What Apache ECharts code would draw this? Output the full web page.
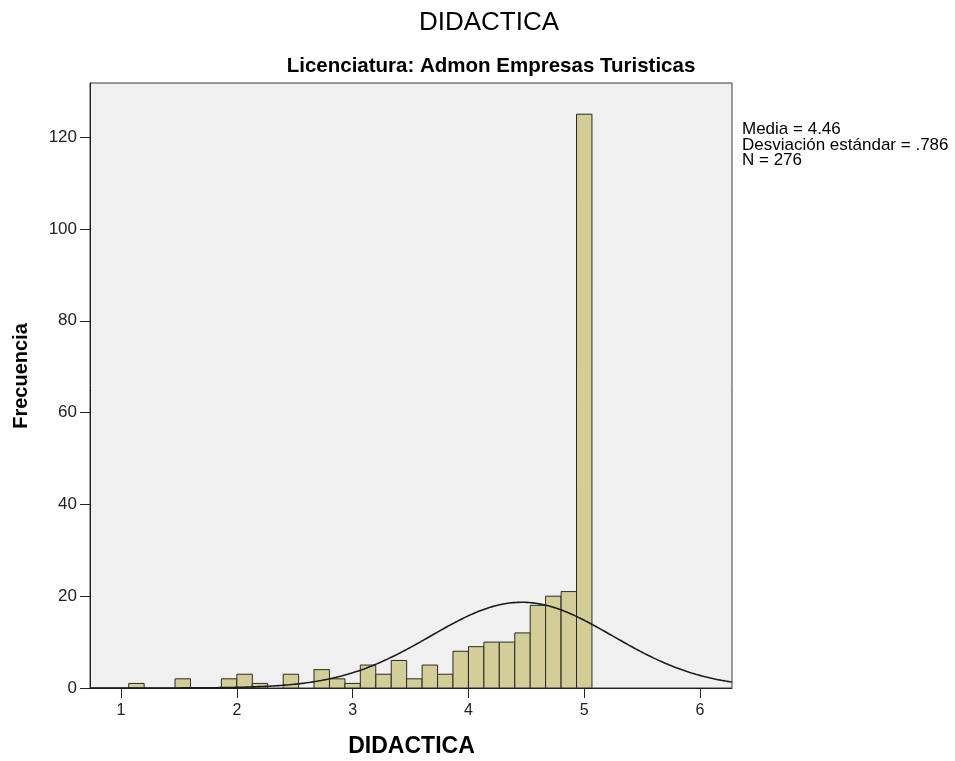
<!DOCTYPE html>
<html>
<head>
<meta charset="utf-8">
<script src="https://cdn.jsdelivr.net/npm/echarts@6/dist/echarts.min.js"></script>
<style>
html,body{margin:0;padding:0;background:#fff;}
#chart{width:955px;height:761px;}
</style>
</head>
<body>
<div id="chart"></div>
<script>
// Histogram bin centers (DIDACTICA) and frequencies
const binCenters = [1.133, 1.533, 1.933, 2.067, 2.2, 2.467, 2.733, 2.867, 3.0, 3.133, 3.267, 3.4, 3.533, 3.667, 3.8, 3.933, 4.067, 4.2, 4.333, 4.467, 4.6, 4.733, 4.867, 5.0];
const frequencies = [1, 2, 2, 3, 1, 3, 4, 2, 1, 5, 3, 6, 2, 5, 3, 8, 9, 10, 10, 12, 18, 20, 21, 125];
const binWidth = 2 / 15;
// Summary statistics shown in the chart
const statMean = 4.46;
const statSD = 0.786;
const statN = 276;
// Tick labels
const xTicks = [1, 2, 3, 4, 5, 6];
const yTicks = [0, 20, 40, 60, 80, 100, 120];

const xMin = 0.732, xMax = 6.276, yMax = 131.8;

// Fitted normal curve (from the displayed mean, sd and N)
const curve = [];
for (let i = 0; i <= 300; i++) {
  const x = xMin + (xMax - xMin) * i / 300;
  const z = (x - statMean) / statSD;
  const y = statN * binWidth / (statSD * Math.sqrt(2 * Math.PI)) * Math.exp(-0.5 * z * z);
  curve.push([x, y]);
}

const font = '"Liberation Sans", Arial, sans-serif';
const chart = echarts.init(document.getElementById('chart'), null, {renderer: 'canvas'});
chart.setOption({
  animation: false,
  backgroundColor: '#ffffff',
  title: [
    {text: 'DIDACTICA', left: 484, top: 5, textAlign: 'center',
     textStyle: {fontFamily: font, fontSize: 26, fontWeight: 'normal', color: '#000'}},
    {text: 'Licenciatura: Admon Empresas Turisticas', left: 486, top: 51, textAlign: 'center',
     textStyle: {fontFamily: font, fontSize: 20.5, fontWeight: 'bold', color: '#000'}},
    {text: 'Media = ' + statMean.toFixed(2) + '\nDesviación estándar = ' + String(statSD).replace(/^0/, '') + '\nN = ' + statN,
     left: 737, top: 117,
     textStyle: {fontFamily: font, fontSize: 17, fontWeight: 'normal', color: '#000', lineHeight: 15.5}}
  ],
  graphic: [
    {type: 'text', x: 21, y: 376, rotation: Math.PI / 2,
     style: {text: 'Frecuencia', fontFamily: font, fontSize: 20, fontWeight: 'bold', fill: '#000',
             align: 'center', verticalAlign: 'middle'}},
    {type: 'text', x: 411.5, y: 747,
     style: {text: 'DIDACTICA', fontFamily: font, fontSize: 23, fontWeight: 'bold', fill: '#000',
             align: 'center', verticalAlign: 'middle'}}
  ],
  grid: {left: 90, right: 223, top: 83, bottom: 73, show: true, outerBoundsMode: 'none',
         backgroundColor: '#f0f0f0', borderColor: '#3a3a3a', borderWidth: 1},
  xAxis: {
    type: 'value', min: xMin, max: xMax,
    axisLine: {show: true, onZero: false, lineStyle: {color: '#222', width: 1}},
    axisTick: {show: true, length: 10, customValues: xTicks, lineStyle: {color: '#222'}},
    axisLabel: {customValues: xTicks, fontFamily: font, fontSize: 16, color: '#222', margin: 15},
    splitLine: {show: false}
  },
  yAxis: {
    type: 'value', min: 0, max: yMax,
    axisLine: {show: true, lineStyle: {color: '#222', width: 1}},
    axisTick: {show: true, length: 10, customValues: yTicks, lineStyle: {color: '#222'}},
    axisLabel: {customValues: yTicks, fontFamily: font, fontSize: 17, color: '#222', margin: 13},
    splitLine: {show: false}
  },
  series: [
    {
      type: 'custom',
      data: binCenters.map((c, i) => [c, frequencies[i]]),
      renderItem: function (params, api) {
        const c = api.value(0), f = api.value(1);
        const p0 = api.coord([c - binWidth / 2, f]);
        const p1 = api.coord([c + binWidth / 2, 0]);
        return {
          type: 'rect',
          shape: {x: p0[0], y: p0[1], width: p1[0] - p0[0], height: p1[1] - p0[1]},
          style: {fill: '#d3ce97', stroke: '#2a2a2a', lineWidth: 1}
        };
      },
      clip: true,
      z: 2
    },
    {
      type: 'line', data: curve, showSymbol: false, symbol: 'none',
      lineStyle: {color: '#1a1a1a', width: 1.6}, clip: true, z: 3
    }
  ]
});
</script>
</body>
</html>
